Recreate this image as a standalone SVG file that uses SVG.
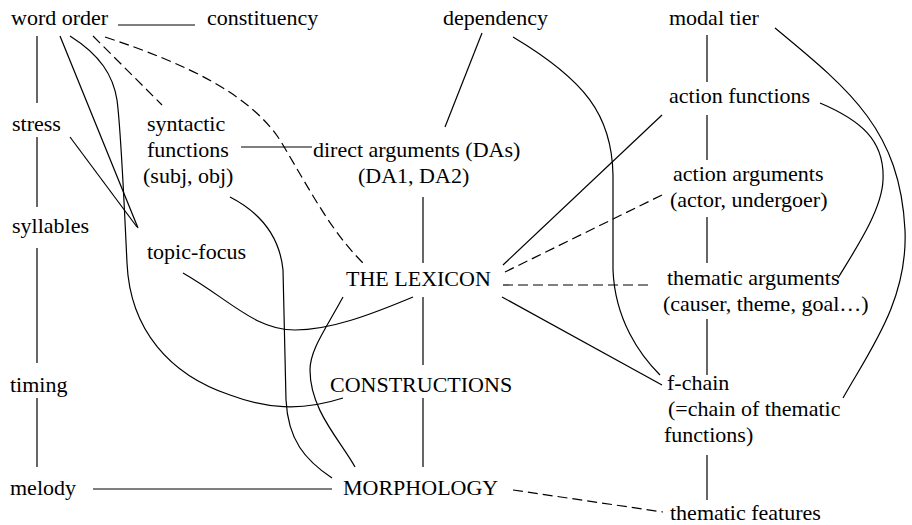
<svg xmlns="http://www.w3.org/2000/svg" width="912" height="525" viewBox="0 0 912 525">
<style>
text { font-family: "Liberation Serif", "Times New Roman", serif; font-size: 22px; fill: #000; }
.c { fill: none; stroke: #000; stroke-width: 1.2; }
.d { stroke-dasharray: 10 5; }
</style>
<rect width="912" height="525" fill="#fff"/>
<g id="connectors">
<line class="c" x1="118" y1="25" x2="195" y2="25"/>
<line class="c" x1="37" y1="36" x2="37" y2="103"/>
<line class="c" x1="37" y1="137" x2="37" y2="207"/>
<line class="c" x1="37" y1="248" x2="37" y2="363"/>
<line class="c" x1="37" y1="398" x2="37" y2="467"/>
<line class="c" x1="93" y1="489" x2="332" y2="489"/>
<line class="c" x1="60" y1="36" x2="138" y2="228"/>
<line class="c" x1="70" y1="137" x2="137" y2="227"/>
<path class="c" d="M70,36 C100,55 113,75 117,100 C121,130 124,200 127,263 C130,330 170,375 230,395 C265,408 300,412 343,398"/>
<line class="c d" x1="93" y1="36" x2="162" y2="105"/>
<path class="c d" d="M105,37 C190,65 250,95 280,140 C310,190 330,230 363,263"/>
<line class="c" x1="241" y1="147" x2="312" y2="147"/>
<line class="c" x1="482" y1="33" x2="445" y2="127"/>
<line class="c" x1="423" y1="197" x2="423" y2="263"/>
<path class="c" d="M230,197 C265,215 280,240 283,270 L286,400 C288,440 305,460 332,478"/>
<path class="c" d="M183,273 C230,300 255,330 295,330 C330,330 370,315 413,297"/>
<path class="c" d="M343,297 C325,330 310,350 310,370 C310,410 340,440 355,467"/>
<line class="c" x1="423" y1="297" x2="423" y2="365"/>
<line class="c" x1="423" y1="398" x2="423" y2="467"/>
<path class="c" d="M513,37 C585,80 612,115 613,175 L613,270 C615,320 640,355 660,375"/>
<line class="c" x1="662" y1="115" x2="503" y2="265"/>
<line class="c d" x1="662" y1="195" x2="505" y2="272"/>
<line class="c d" x1="503" y1="285" x2="650" y2="285"/>
<line class="c" x1="502" y1="297" x2="662" y2="385"/>
<line class="c d" x1="513" y1="490" x2="663" y2="512"/>
<line class="c" x1="707" y1="35" x2="707" y2="82"/>
<line class="c" x1="707" y1="115" x2="707" y2="160"/>
<line class="c" x1="707" y1="217" x2="707" y2="263"/>
<line class="c" x1="707" y1="319" x2="707" y2="375"/>
<line class="c" x1="707" y1="455" x2="707" y2="500"/>
<path class="c" d="M775,28 C850,90 900,130 905,230 C908,300 870,350 843,398"/>
<path class="c" d="M820,103 C860,120 885,140 883,180 C882,210 855,250 838,278"/>
</g>
<g id="n-word-order"><text x="11" y="25">word order</text></g>
<g id="n-constituency"><text x="207" y="25">constituency</text></g>
<g id="n-dependency"><text x="443" y="25">dependency</text></g>
<g id="n-modal-tier"><text x="669" y="25">modal tier</text></g>
<g id="n-stress"><text x="12" y="131">stress</text></g>
<g id="n-syntactic"><text x="147" y="131">syntactic</text><text x="147" y="157">functions</text><text x="143" y="183">(subj, obj)</text></g>
<g id="n-direct-args"><text x="313" y="157">direct arguments (DAs)</text><text x="358" y="183">(DA1, DA2)</text></g>
<g id="n-action-functions"><text x="669" y="103">action functions</text></g>
<g id="n-syllables"><text x="12" y="233">syllables</text></g>
<g id="n-action-args"><text x="673" y="181">action arguments</text><text x="670" y="207">(actor, undergoer)</text></g>
<g id="n-topic-focus"><text x="147" y="259">topic-focus</text></g>
<g id="n-lexicon"><text x="346" y="286">THE LEXICON</text></g>
<g id="n-thematic-args"><text x="667" y="285">thematic arguments</text><text x="663" y="311">(causer, theme, goal…)</text></g>
<g id="n-timing"><text x="10" y="392">timing</text></g>
<g id="n-constructions"><text x="330" y="392">CONSTRUCTIONS</text></g>
<g id="n-f-chain"><text x="667" y="390">f-chain</text><text x="668" y="416">(=chain of thematic</text><text x="664" y="442">functions)</text></g>
<g id="n-melody"><text x="10" y="495">melody</text></g>
<g id="n-morphology"><text x="343" y="495">MORPHOLOGY</text></g>
<g id="n-thematic-features"><text x="670" y="520">thematic features</text></g>
</svg>
